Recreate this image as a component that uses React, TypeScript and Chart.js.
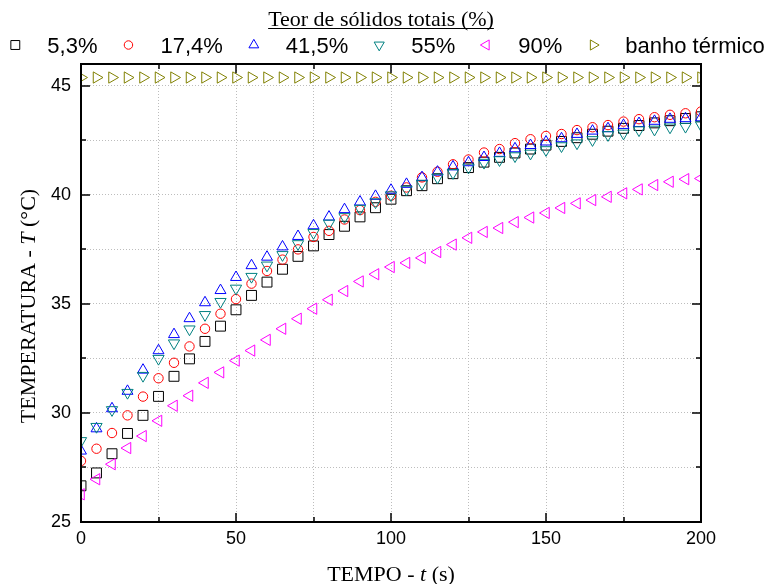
import { useEffect, useRef } from 'react';
import { Chart, registerables } from 'chart.js';
import { drawPoint } from 'chart.js/helpers';

Chart.register(...registerables);

// Tempo (s)
const tempo = [
  0, 5, 10, 15, 20, 25, 30, 35, 40, 45, 50, 55, 60, 65, 70, 75, 80, 85, 90, 95, 100,
  105, 110, 115, 120, 125, 130, 135, 140, 145, 150, 155, 160, 165, 170, 175, 180, 185, 190, 195, 200,
];

// Temperatura (°C) por teor de sólidos totais
const solidos53 = [
  26.66, 27.25, 28.13, 29.06, 29.89, 30.76, 31.68, 32.48, 33.28, 33.98, 34.73, 35.39, 36.0, 36.59, 37.18, 37.66,
  38.18, 38.56, 38.99, 39.41, 39.8, 40.19, 40.42, 40.74, 40.97, 41.25, 41.5, 41.72, 41.92, 42.1, 42.28, 42.45,
  42.62, 42.78, 42.92, 43.05, 43.18, 43.3, 43.4, 43.5, 43.58,
];
const solidos174 = [
  27.8, 28.36, 29.08, 29.89, 30.75, 31.59, 32.3, 33.05, 33.86, 34.55, 35.22, 35.93, 36.51, 37.03, 37.5, 38.07,
  38.35, 38.87, 39.3, 39.68, 39.96, 40.34, 40.8, 41.06, 41.4, 41.62, 41.94, 42.1, 42.37, 42.55, 42.7, 42.79,
  42.97, 43.1, 43.2, 43.36, 43.47, 43.56, 43.67, 43.74, 43.82,
];
const solidos415 = [
  28.26, 29.28, 30.2, 31.0, 31.97, 32.86, 33.6, 34.33, 35.06, 35.62, 36.22, 36.76, 37.15, 37.62, 38.1, 38.59,
  38.99, 39.33, 39.68, 39.94, 40.22, 40.49, 40.8, 41.05, 41.29, 41.48, 41.72, 41.91, 42.12, 42.27, 42.43, 42.58,
  42.78, 42.93, 43.04, 43.19, 43.28, 43.38, 43.47, 43.5, 43.54,
];
const solidos55 = [
  28.72, 29.37, 30.14, 30.93, 31.71, 32.49, 33.2, 33.84, 34.5, 35.1, 35.71, 36.25, 36.77, 37.25, 37.75, 38.26,
  38.69, 38.99, 39.37, 39.67, 39.99, 40.25, 40.52, 40.8, 41.01, 41.26, 41.48, 41.6, 41.78, 41.9, 42.06, 42.24,
  42.37, 42.52, 42.75, 42.82, 42.97, 43.0, 43.1, 43.13, 43.2,
];
const solidos90 = [
  26.27, 26.96, 27.65, 28.39, 28.94, 29.64, 30.33, 30.79, 31.38, 31.86, 32.4, 32.86, 33.35, 33.86, 34.32, 34.78,
  35.19, 35.59, 36.03, 36.36, 36.69, 36.88, 37.11, 37.38, 37.72, 38.03, 38.3, 38.48, 38.75, 38.96, 39.17, 39.4,
  39.61, 39.76, 39.91, 40.07, 40.25, 40.45, 40.6, 40.72, 40.75,
];
const banhoTermico = [
  45.38, 45.38, 45.38, 45.38, 45.38, 45.38, 45.38, 45.38, 45.38, 45.38, 45.38, 45.38, 45.38, 45.38, 45.38, 45.38,
  45.38, 45.38, 45.38, 45.38, 45.38, 45.38, 45.38, 45.38, 45.38, 45.38, 45.38, 45.38, 45.38, 45.38, 45.38, 45.38,
  45.38, 45.38, 45.38, 45.38, 45.38, 45.38, 45.38, 45.38, 45.38,
];

const seriesLabels = ['5,3%', '17,4%', '41,5%', '55%', '90%', 'banho térmico'];
const seriesValues = [solidos53, solidos174, solidos415, solidos55, solidos90, banhoTermico];

// Labelled tick values; grid lines fall on every step
const xLabelled = [0, 50, 100, 150, 200];
const yLabelled = [25, 30, 35, 40, 45];

const legendTitle = 'Teor de sólidos totais (%)';
const xTitle = [
  { text: 'TEMPO - ', italic: false },
  { text: 't', italic: true },
  { text: ' (s)', italic: false },
];
const yTitle = [
  { text: 'TEMPERATURA - ', italic: false },
  { text: 'T', italic: true },
  { text: ' (°C)', italic: false },
];

const markerStyles = [
  { color: '#000000', pointStyle: 'rect', rotation: 0, radius: 7 },
  { color: '#ff0000', pointStyle: 'circle', rotation: 0, radius: 4.7 },
  { color: '#0000ff', pointStyle: 'triangle', rotation: 0, radius: 6.3 },
  { color: '#008080', pointStyle: 'triangle', rotation: 180, radius: 6.5 },
  { color: '#ff00ff', pointStyle: 'triangle', rotation: 270, radius: 6.5 },
  { color: '#808000', pointStyle: 'triangle', rotation: 90, radius: 6.5 },
];

const SANS = '"Liberation Sans", Arial, sans-serif';
const SERIF = '"Liberation Serif", "Times New Roman", serif';

function drawRich(ctx: CanvasRenderingContext2D, parts: { text: string; italic: boolean }[], cx: number, baseline: number, size: number) {
  const fontFor = (italic: boolean) => `${italic ? 'italic ' : ''}${size}px ${SERIF}`;
  let total = 0;
  const widths = parts.map((p) => {
    ctx.font = fontFor(p.italic);
    const w = ctx.measureText(p.text).width;
    total += w;
    return w;
  });
  let x = cx - total / 2;
  ctx.textAlign = 'left';
  ctx.textBaseline = 'alphabetic';
  parts.forEach((p, i) => {
    ctx.font = fontFor(p.italic);
    ctx.fillText(p.text, x, baseline);
    x += widths[i];
  });
}

const decorPlugin = {
  id: 'decor',
  afterDraw(chart: any) {
    const { ctx, chartArea } = chart;
    const { left, right, top, bottom } = chartArea;
    const xs = chart.scales.x;
    const ys = chart.scales.y;
    ctx.save();

    // frame with inward ticks
    ctx.strokeStyle = '#000';
    ctx.lineWidth = 2;
    ctx.strokeRect(left, top, right - left, bottom - top);
    ctx.lineWidth = 1.5;
    ctx.beginPath();
    xs.ticks.forEach((t: any) => {
      const px = Math.round(xs.getPixelForValue(t.value));
      const len = xLabelled.includes(t.value) ? 9 : 5;
      ctx.moveTo(px, bottom);
      ctx.lineTo(px, bottom - len);
      ctx.moveTo(px, top);
      ctx.lineTo(px, top + len);
    });
    ys.ticks.forEach((t: any) => {
      const py = Math.round(ys.getPixelForValue(t.value));
      const len = yLabelled.includes(t.value) ? 9 : 5;
      ctx.moveTo(left, py);
      ctx.lineTo(left + len, py);
      ctx.moveTo(right, py);
      ctx.lineTo(right - len, py);
    });
    ctx.stroke();

    // axis titles
    ctx.fillStyle = '#000';
    drawRich(ctx, xTitle, (left + right) / 2, 581, 22);
    ctx.save();
    ctx.translate(35, (top + bottom) / 2 + 13);
    ctx.rotate(-Math.PI / 2);
    drawRich(ctx, yTitle, 0, 0, 22);
    ctx.restore();

    // legend title, underlined
    ctx.font = `22px ${SERIF}`;
    const tw = ctx.measureText(legendTitle).width;
    const tx = 381 - tw / 2;
    ctx.textAlign = 'left';
    ctx.textBaseline = 'alphabetic';
    ctx.fillText(legendTitle, tx, 26);
    ctx.lineWidth = 1;
    ctx.beginPath();
    ctx.moveTo(tx, 28.5);
    ctx.lineTo(tx + tw, 28.5);
    ctx.stroke();

    // legend row
    const markerGap = 32;
    const itemGap = 31;
    ctx.font = `22px ${SANS}`;
    const widths = seriesLabels.map((l) => ctx.measureText(l).width);
    const total = widths.reduce((a, b) => a + b, 0) + markerGap * seriesLabels.length + itemGap * (seriesLabels.length - 1);
    let x = 390 - total / 2;
    const rowY = 45;
    seriesLabels.forEach((label, i) => {
      const st = markerStyles[i];
      ctx.strokeStyle = st.color;
      ctx.fillStyle = 'rgba(0,0,0,0)';
      ctx.lineWidth = 1;
      drawPoint(ctx, { pointStyle: st.pointStyle as any, rotation: st.rotation, radius: st.radius * 0.9, borderWidth: 1 }, x, rowY);
      ctx.fillStyle = '#000';
      ctx.textBaseline = 'alphabetic';
      ctx.fillText(label, x + markerGap, 53);
      x += markerGap + widths[i] + itemGap;
    });

    ctx.restore();
  },
};

export default function App() {
  const canvasRef = useRef<HTMLCanvasElement>(null);

  useEffect(() => {
    if (!canvasRef.current) return;
    const datasets = seriesValues.map((vals, i) => {
      const st = markerStyles[i];
      return {
        label: seriesLabels[i],
        data: tempo.map((t, j) => ({ x: t, y: vals[j] })),
        showLine: false,
        pointStyle: st.pointStyle,
        rotation: st.rotation,
        pointRadius: st.radius,
        pointBorderWidth: 1,
        pointBorderColor: st.color,
        pointBackgroundColor: 'rgba(0,0,0,0)',
        borderColor: st.color,
        backgroundColor: 'rgba(0,0,0,0)',
        clip: 0,
        order: seriesValues.length - i,
      };
    });

    const tickFont = { family: SANS, size: 18 };
    const chart = new Chart(canvasRef.current, {
      type: 'scatter',
      data: { datasets } as any,
      plugins: [decorPlugin],
      options: {
        animation: false,
        responsive: false,
        layout: { padding: { top: 64, right: 67, left: 0, bottom: 0 } },
        plugins: { legend: { display: false }, tooltip: { enabled: false } },
        scales: {
          x: {
            type: 'linear',
            min: 0,
            max: 200,
            ticks: {
              stepSize: 25,
              autoSkip: false,
              maxRotation: 0,
              padding: 6,
              color: '#000',
              font: tickFont,
              callback: (v: any) => (xLabelled.includes(v) ? String(v) : ''),
            },
            grid: { color: '#bdbdbd', lineWidth: 1, drawTicks: false },
            border: { display: false, dash: [1, 2] },
            afterFit: (s: any) => {
              s.height = 62;
            },
          },
          y: {
            type: 'linear',
            min: 25,
            max: 46,
            ticks: {
              stepSize: 2.5,
              includeBounds: false,
              autoSkip: false,
              padding: 10,
              color: '#000',
              font: tickFont,
              callback: (v: any) => (yLabelled.includes(v) ? String(v) : ''),
            },
            grid: { color: '#bdbdbd', lineWidth: 1, drawTicks: false },
            border: { display: false, dash: [1, 2] },
            afterFit: (s: any) => {
              s.width = 81;
            },
          },
        },
      } as any,
    });
    return () => chart.destroy();
  }, []);

  return (
    <div style={{ position: 'fixed', left: 0, top: 0, width: 768, height: 584, background: '#fff' }}>
      <canvas ref={canvasRef} width={768} height={584} style={{ display: 'block' }} />
    </div>
  );
}
